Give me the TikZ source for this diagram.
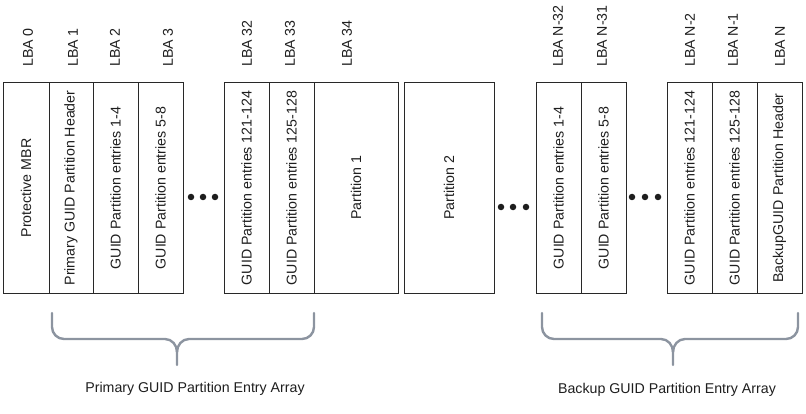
\documentclass[tikz,border=0pt]{standalone}
\usepackage{fontspec}
\setmainfont{Liberation Sans}
\usetikzlibrary{positioning}
\definecolor{cellline}{RGB}{40,40,40}
\definecolor{bracegray}{RGB}{140,148,160}
\definecolor{inktext}{RGB}{30,30,30}

\begin{document}
\begin{tikzpicture}[x=1pt, y=1pt,
  cell/.style={
    draw=cellline, line width=1pt, rotate=90, minimum width=210pt,
    inner sep=0pt, text=inktext, font=\fontsize{14.2}{17}\selectfont
  },
  lba/.style={
    rotate=90, anchor=west, inner sep=0pt, text=inktext,
    font=\fontsize{14.2}{17}\selectfont
  },
  caption/.style={text=inktext, font=\fontsize{14.2}{17}\selectfont},
  dot/.style={circle, fill=inktext, inner sep=0pt, minimum size=6.5pt},
  brace/.style={draw=bracegray, line width=2.4pt, line cap=round, line join=round}
]
\useasboundingbox (0,0) rectangle (806,413);

% primary side
\node[cell, minimum height=46pt] (mbr) at (26,225) {Protective MBR};
\node[cell, minimum height=44pt] (phdr) at (71,225) {Primary GUID Partition Header};
\node[cell, minimum height=45pt] (pe1) at (115.5,225) {GUID Partition entries 1-4};
\node[cell, minimum height=45pt] (pe2) at (160.5,225) {GUID Partition entries 5-8};

\node[dot] (da1) at (191,216) {};
\node[dot] (da2) at (203,216) {};
\node[dot] (da3) at (215,216) {};

\node[cell, minimum height=45pt] (pe31) at (246.5,225) {GUID Partition entries 121-124};
\node[cell, minimum height=45pt] (pe32) at (291.5,225) {GUID Partition entries 125-128};
\node[cell, minimum height=84pt] (part1) at (356,225) {Partition 1};
\node[cell, minimum height=90pt] (part2) at (449,225) {Partition 2};

\node[dot] (db1) at (501,206) {};
\node[dot] (db2) at (513,206) {};
\node[dot] (db3) at (526,206) {};

% backup side
\node[cell, minimum height=45pt] (be1) at (558.5,225) {GUID Partition entries 1-4};
\node[cell, minimum height=45pt] (be2) at (603.5,225) {GUID Partition entries 5-8};

\node[dot] (dc1) at (632,216) {};
\node[dot] (dc2) at (645,216) {};
\node[dot] (dc3) at (658,216) {};

\node[cell, minimum height=45pt] (be31) at (689.5,225) {GUID Partition entries 121-124};
\node[cell, minimum height=45pt] (be32) at (734.5,225) {GUID Partition entries 125-128};
\node[cell, minimum height=45pt] (bhdr) at (779.5,225) {BackupGUID Partition Header};

% LBA numbers
\node[lba] (l0) at (28,346) {LBA 0};
\node[lba] (l1) at (73,346) {LBA 1};
\node[lba] (l2) at (115,346) {LBA 2};
\node[lba] (l3) at (168,346) {LBA 3};
\node[lba] (l32) at (247,346) {LBA 32};
\node[lba] (l33) at (290,346) {LBA 33};
\node[lba] (l34) at (347,346) {LBA 34};
\node[lba] (ln32) at (558,346) {LBA N-32};
\node[lba] (ln31) at (602,346) {LBA N-31};
\node[lba] (ln2) at (690,346) {LBA N-2};
\node[lba] (ln1) at (733,346) {LBA N-1};
\node[lba] (ln) at (780,346) {LBA N};

% braces
\coordinate (ptip) at (177,48);
\coordinate (btip) at (673,48);
\draw[brace] (52,100) -- (52,86) to[out=-90,in=180] (64,74) -- (165,74)
  to[out=0,in=90] (177,61) -- (ptip);
\draw[brace] (314,100) -- (314,86) to[out=-90,in=0] (302,74) -- (189,74)
  to[out=180,in=90] (177,61);
\draw[brace] (542,100) -- (542,86) to[out=-90,in=180] (554,74) -- (661,74)
  to[out=0,in=90] (673,61) -- (btip);
\draw[brace] (798,100) -- (798,86) to[out=-90,in=0] (786,74) -- (685,74)
  to[out=180,in=90] (673,61);

\node[caption] (pcap) at (195,24) {Primary GUID Partition Entry Array};
\node[caption] (bcap) at (667,23) {Backup GUID Partition Entry Array};

\end{tikzpicture}
\end{document}
